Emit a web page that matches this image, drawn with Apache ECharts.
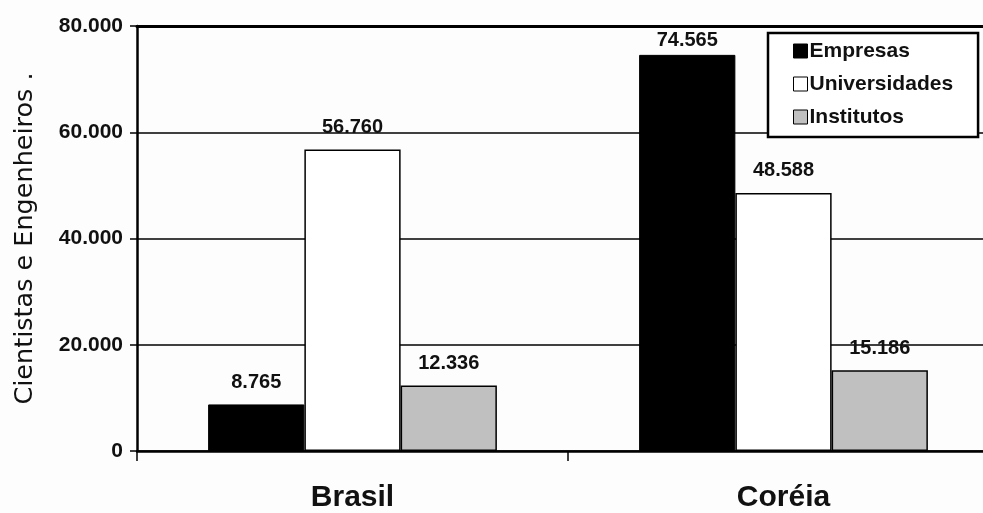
<!DOCTYPE html>
<html>
<head>
<meta charset="utf-8">
<script src="https://cdn.jsdelivr.net/npm/echarts@6/dist/echarts.min.js"></script>
<style>
  html, body { margin: 0; padding: 0; background: #fdfdfd; overflow: hidden; }
  /* o quadro do grafico passa da borda direita da imagem */
  #chart { width: 999px; height: 513px; }
</style>
</head>
<body>
<div id="chart"></div>
<script>
// dados
var paises = ['Brasil', 'Coréia'];
var empresas = [8765, 74565];
var universidades = [56760, 48588];
var institutos = [12336, 15186];
var nomesSeries = ['Empresas', 'Universidades', 'Institutos'];
var ticksY = [0, 20000, 40000, 60000, 80000];

// numero no formato 8.765
function fmt(v) {
  return String(v).replace(/\B(?=(\d{3})+(?!\d))/g, '.');
}

var myChart = echarts.init(document.getElementById('chart'));

var labelBase = {
  show: true,
  position: 'top',
  distance: 12,
  color: '#111',
  fontFamily: 'Liberation Sans',
  fontWeight: 'bold',
  fontSize: 20,
  formatter: function (p) { return fmt(p.value); }
};

function serieDados(valores) {
  return valores.map(function (v) {
    // o rotulo de 74.565 fica mais perto da barra
    if (v > 70000) {
      return { value: v, label: { distance: 4 } };
    }
    return v;
  });
}

myChart.setOption({
  animation: false,
  backgroundColor: '#fdfdfd',
  color: ['#000000', '#ffffff', '#c0c0c0'],
  legend: {
    data: nomesSeries,
    orient: 'vertical',
    left: 768,
    top: 33,
    padding: [7, 25, 9, 25],
    itemGap: 11,
    itemWidth: 14,
    itemHeight: 14,
    icon: 'rect',
    backgroundColor: '#fff',
    borderColor: '#000',
    borderWidth: 2.5,
    borderRadius: 0,
    itemStyle: { borderColor: '#000', borderWidth: 1 },
    textStyle: {
      fontFamily: 'Liberation Sans',
      fontWeight: 'bold',
      fontSize: 21,
      lineHeight: 22,
      color: '#111',
      padding: [0, 0, 0, -3]
    }
  },
  grid: {
    left: 137,
    top: 26,
    bottom: 62,
    right: 0
  },
  xAxis: [{
    type: 'category',
    data: paises,
    axisLine: { lineStyle: { color: '#000', width: 2.5 } },
    axisTick: { show: true, length: 10, lineStyle: { color: '#000', width: 1.5 } },
    axisLabel: {
      margin: 32,
      color: '#111',
      fontFamily: 'Liberation Sans',
      fontWeight: 'bold',
      fontSize: 30
    }
  }, {
    // linha superior do quadro
    type: 'category',
    position: 'top',
    data: paises,
    axisLine: { show: true, lineStyle: { color: '#000', width: 3 } },
    axisTick: { show: false },
    axisLabel: { show: false }
  }],
  yAxis: {
    type: 'value',
    min: ticksY[0],
    max: ticksY[ticksY.length - 1],
    interval: 20000,
    name: 'Cientistas e Engenheiros .',
    nameLocation: 'middle',
    nameGap: 99,
    nameTextStyle: {
      fontFamily: 'DejaVu Sans',
      fontSize: 25.5,
      color: '#111'
    },
    axisLine: { show: true, lineStyle: { color: '#000', width: 2.5 } },
    axisTick: { show: true, length: 7, lineStyle: { color: '#000', width: 1.5 } },
    splitLine: { show: true, lineStyle: { color: '#000', width: 1.5 } },
    axisLabel: {
      margin: 14,
      color: '#111',
      fontFamily: 'Liberation Sans',
      fontWeight: 'bold',
      fontSize: 21,
      formatter: function (v) { return fmt(v); }
    }
  },
  series: [
    {
      name: nomesSeries[0],
      type: 'bar',
      barGap: '0%',
      barCategoryGap: '33%',
      data: serieDados(empresas),
      itemStyle: { color: '#000', borderColor: '#000', borderWidth: 1 },
      label: labelBase
    },
    {
      name: nomesSeries[1],
      type: 'bar',
      barGap: '0%',
      barCategoryGap: '33%',
      data: serieDados(universidades),
      itemStyle: { color: '#fff', borderColor: '#000', borderWidth: 1.5 },
      label: labelBase
    },
    {
      name: nomesSeries[2],
      type: 'bar',
      barGap: '0%',
      barCategoryGap: '33%',
      data: serieDados(institutos),
      itemStyle: { color: '#c0c0c0', borderColor: '#000', borderWidth: 1.5 },
      label: labelBase
    }
  ]
});
</script>
</body>
</html>
